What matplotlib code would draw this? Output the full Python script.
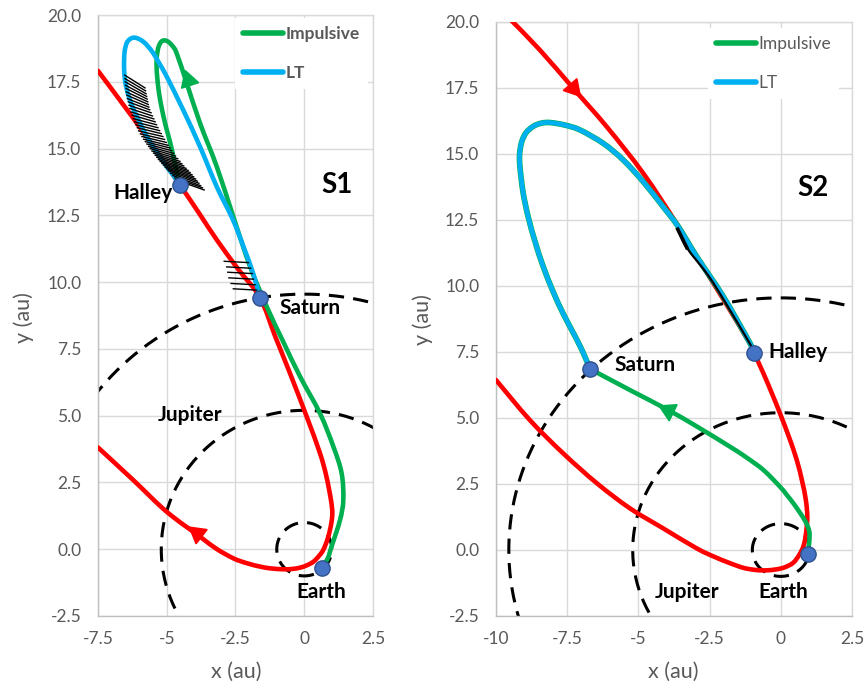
import numpy as np
import matplotlib
matplotlib.use('Agg')
import matplotlib.pyplot as plt
from matplotlib.lines import Line2D
from matplotlib.path import Path
from matplotlib.patches import PathPatch

plt.rcParams['font.family'] = ['Lato', 'DejaVu Sans']

# planet orbit radii (au)
orbit_r = [1.0, 5.2, 9.55]

# ---- S1 (left) ----
s1_halley_x = [-7.5, -6.22, -5.30, -4.52, -3.85, -3.18, -2.40, -1.61, -1.05, -0.52, 0.09, 0.57, 0.80,
               0.97, 1.02, 0.98, 0.86, 0.69, 0.52, 0.33, 0.10, -0.15, -0.45, -0.76, -1.20, -1.61,
               -2.10, -2.58, -3.20, -3.79, -5.0, -6.22, -7.5]
s1_halley_y = [17.91, 16.14, 14.80, 13.64, 12.62, 11.58, 10.48, 9.42, 7.95, 6.59, 4.96, 3.60, 2.75,
               1.85, 1.36, 0.95, 0.42, -0.03, -0.27, -0.47, -0.60, -0.69, -0.74, -0.75, -0.72, -0.65,
               -0.52, -0.34, 0.02, 0.47, 1.40, 2.59, 3.81]
s1_imp_x = [0.63, 0.85, 0.99, 1.30, 1.42, 1.36, 1.06, 0.57, -0.15, -0.78, -1.35, -1.97, -2.58,
            -3.18, -3.79, -4.27, -4.64, -4.80, -4.95, -5.08, -5.20, -5.30, -5.36, -5.37, -5.34, -5.28,
            -5.18, -5.05, -4.92, -4.80, -4.70, -4.58, -4.52]
s1_imp_y = [-0.69, -0.35, 0.09, 1.09, 1.84, 2.84, 3.84, 5.09, 6.46, 7.80, 9.05, 10.58, 12.45,
            14.32, 15.95, 17.44, 18.57, 18.85, 19.00, 19.05, 19.00, 18.80, 18.45, 18.06, 17.60, 17.07,
            16.50, 15.90, 15.40, 14.90, 14.40, 13.90, 13.64]
s1_lt_x = [-1.61, -1.85, -2.20, -2.60, -3.18, -3.79, -4.40, -5.0, -5.25, -5.49, -5.68, -5.85, -6.05,
           -6.22, -6.36, -6.46, -6.53, -6.55, -6.55, -6.52, -6.45, -6.34, -6.17, -5.97, -5.75, -5.49,
           -5.25, -5.0, -4.80, -4.64, -4.52]
s1_lt_y = [9.42, 10.30, 11.30, 12.35, 13.57, 15.07, 16.44, 17.69, 18.15, 18.57, 18.82, 19.00, 19.12,
           19.15, 19.08, 18.94, 18.65, 18.32, 17.95, 17.57, 17.20, 16.82, 16.38, 15.95, 15.50, 15.07,
           14.70, 14.32, 14.05, 13.82, 13.64]
# thrust segments near Halley (start on LT arc, end)
s1_thr_x0 = [-6.53, -6.52, -6.51, -6.50, -6.48, -6.47, -6.45, -6.43, -6.40, -6.37, -6.34, -6.30, -6.26,
             -6.22, -6.17, -6.12, -6.07, -6.02, -5.96, -5.90, -5.84, -5.78, -5.72, -5.66, -5.60, -5.54,
             -5.48, -5.42, -5.36, -5.30, -5.24, -5.18, -5.12, -5.06, -5.00, -4.94, -4.86, -4.78, -4.70,
             -4.62]
s1_thr_y0 = [17.75, 17.62, 17.50, 17.37, 17.25, 17.12, 17.00, 16.87, 16.75, 16.62, 16.50, 16.37, 16.25,
             16.12, 16.00, 15.89, 15.78, 15.66, 15.55, 15.45, 15.35, 15.26, 15.17, 15.08, 15.00, 14.91,
             14.83, 14.75, 14.67, 14.59, 14.52, 14.45, 14.38, 14.31, 14.24, 14.17, 14.08, 13.99, 13.90,
             13.81]
s1_thr_x1 = [-5.79, -5.77, -5.75, -5.73, -5.71, -5.69, -5.67, -5.65, -5.62, -5.57, -5.52, -5.47, -5.42,
             -5.37, -5.32, -5.26, -5.20, -5.14, -5.08, -5.02, -4.95, -4.88, -4.82, -4.75, -4.68, -4.60,
             -4.52, -4.45, -4.38, -4.30, -4.22, -4.15, -4.08, -4.02, -3.95, -3.89, -3.83, -3.77, -3.70,
             -3.64]
s1_thr_y1 = [17.27, 17.16, 17.05, 16.95, 16.85, 16.75, 16.65, 16.55, 16.45, 16.34, 16.22, 16.11, 16.00,
             15.89, 15.78, 15.67, 15.56, 15.45, 15.34, 15.23, 15.12, 15.02, 14.92, 14.82, 14.72, 14.62,
             14.52, 14.43, 14.35, 14.26, 14.18, 14.10, 14.02, 13.94, 13.86, 13.78, 13.70, 13.61, 13.53,
             13.45]
# thrust segments near Saturn
s1_thr2_x0 = [-2.91, -2.82, -2.78, -2.74, -2.66, -2.58]
s1_thr2_x1 = [-2.03, -1.95, -1.89, -1.85, -1.79, -1.73]
s1_thr2_y0 = [10.78, 10.57, 10.37, 10.16, 9.95, 9.75]
s1_thr2_y1 = [10.73, 10.52, 10.32, 10.11, 9.90, 9.70]
s1_bodies = {'Earth': (0.63, -0.69), 'Saturn': (-1.61, 9.42), 'Halley': (-4.52, 13.64)}
s1_labels = {'Halley': (-5.86, 13.33), 'Saturn': (0.21, 9.03), 'Jupiter': (-4.15, 5.02), 'Earth': (0.63, -1.59)}

# ---- S2 (right) ----
s2_halley_x = [-9.5, -8.46, -7.29, -6.11, -4.83, -3.66, -2.95, -2.02, -1.02, -0.93, -0.61, -0.30, -0.03,
               0.28, 0.56, 0.75, 0.88, 0.93, 0.91, 0.86, 0.79, 0.65, 0.44, 0.15, -0.14, -0.50, -0.85,
               -1.30, -1.78, -2.35, -2.95, -4.13, -5.30, -6.46, -7.64, -8.81, -10.0]
s2_halley_y = [20.1, 18.94, 17.49, 16.03, 14.27, 12.37, 11.11, 9.50, 7.70, 7.45, 6.69, 5.90, 5.18,
               4.30, 3.41, 2.60, 1.89, 1.30, 0.88, 0.45, 0.13, -0.18, -0.48, -0.65, -0.73, -0.77, -0.76,
               -0.68, -0.50, -0.25, 0.06, 0.82, 1.58, 2.53, 3.66, 4.92, 6.44]
s2_imp_x = [0.94, 1.00, 1.00, 0.88, 0.68, 0.44, 0.20, -0.03, -0.61, -1.20, -1.78, -2.95, -3.95, -5.30, -6.70]
s2_imp_y = [-0.16, 0.30, 0.70, 1.05, 1.40, 1.77, 2.10, 2.40, 3.03, 3.50, 3.91, 4.68, 5.30, 6.06, 6.86]
s2_lt_x = [-6.70, -6.95, -7.25, -7.64, -8.00, -8.34, -8.62, -8.87, -9.05, -9.16, -9.17, -9.10, -8.95,
           -8.69, -8.40, -8.10, -7.60, -7.05, -6.23, -5.53, -4.83, -4.13, -3.60, -2.95, -2.02, -1.08, -0.93]
s2_lt_y = [6.86, 7.50, 8.15, 8.95, 9.80, 10.73, 11.65, 12.62, 13.55, 14.52, 15.00, 15.45, 15.80,
           16.05, 16.17, 16.19, 16.10, 15.91, 15.40, 14.77, 13.95, 13.00, 12.25, 11.11, 9.60, 7.83, 7.45]
s2_thr_x = [-3.62, -3.30, -2.55, -1.95, -1.05]
s2_thr_y = [12.15, 11.45, 10.40, 9.38, 7.75]
s2_bodies = {'Earth': (0.94, -0.16), 'Saturn': (-6.70, 6.86), 'Halley': (-0.93, 7.45)}
s2_labels = {'Halley': (0.61, 7.51), 'Saturn': (-4.77, 7.01), 'Jupiter': (-3.30, -1.58), 'Earth': (0.09, -1.58)}

yticks = [-2.5, 0.0, 2.5, 5.0, 7.5, 10.0, 12.5, 15.0, 17.5, 20.0]
ytick_labels = ['-2.5', '0.0', '2.5', '5.0', '7.5', '10.0', '12.5', '15.0', '17.5', '20.0']
s1_xticks = [-7.5, -5, -2.5, 0, 2.5]
s1_xtick_labels = ['-7.5', '-5', '-2.5', '0', '2.5']
s2_xticks = [-10, -7.5, -5, -2.5, 0, 2.5]
s2_xtick_labels = ['-10', '-7.5', '-5', '-2.5', '0', '2.5']

RED = '#FF0000'
GREEN = '#00B050'
BLUE = '#00B0F0'
GRAY = '#595959'
LW = 3.3

fig = plt.figure(figsize=(8.67, 6.88), dpi=100)
ax1 = fig.add_axes([98 / 867, 1 - 616 / 688, 275 / 867, 601 / 688])
ax2 = fig.add_axes([496 / 867, 1 - 616 / 688, 356 / 867, 594 / 688])


def smooth(ax, xs, ys, color, lw=LW, z=4):
    # smoothed line through the points (like a spreadsheet "smoothed line" series)
    p = np.column_stack([xs, ys])
    verts = [p[0]]
    codes = [Path.MOVETO]
    n = len(p)
    for i in range(n - 1):
        p0 = p[i - 1] if i > 0 else p[i]
        p3 = p[i + 2] if i + 2 < n else p[i + 1]
        verts += [p[i] + (p[i + 1] - p0) / 6, p[i + 1] - (p3 - p[i]) / 6, p[i + 1]]
        codes += [Path.CURVE4] * 3
    ax.add_patch(PathPatch(Path(verts, codes), fill=False, edgecolor=color, lw=lw,
                           capstyle='round', joinstyle='round', zorder=z))


def setup(ax, xlim, xt, xtl):
    ax.set_xlim(*xlim)
    ax.set_ylim(-2.5, 20)
    ax.set_xticks(xt)
    ax.set_xticklabels(xtl)
    ax.set_yticks(yticks)
    ax.set_yticklabels(ytick_labels)
    ax.tick_params(length=0, labelsize=12.5, labelcolor=GRAY)
    ax.tick_params(axis='y', pad=12)
    ax.tick_params(axis='x', pad=11)
    ax.grid(True, color='#D9D9D9', lw=1.0, zorder=0)
    ax.set_axisbelow(True)
    for s in ax.spines.values():
        s.set_color('#D9D9D9')
        s.set_linewidth(1.0)
    ax.spines['left'].set_color('#BFBFBF')
    ax.spines['bottom'].set_color('#BFBFBF')
    th = np.linspace(0, 2 * np.pi, 400)
    for r in orbit_r:
        ax.plot(r * np.cos(th), r * np.sin(th), color='black', lw=2.2, dashes=(5, 3), zorder=2)


def bodies(ax, b, labels):
    for name, (x, y) in b.items():
        ax.plot(x, y, 'o', ms=11, mfc='#4472C4', mec='#2F528F', mew=1.0, zorder=10)
    for name, (x, y) in labels.items():
        ax.text(x, y, name, fontsize=15, fontweight='bold', ha='center', va='center', zorder=11)


def legend(ax, anchor, weight):
    h = [Line2D([], [], color=GREEN, lw=4, solid_capstyle='round'),
         Line2D([], [], color=BLUE, lw=4, solid_capstyle='round')]
    lg = ax.legend(h, ['Impulsive', 'LT'], loc='upper left', bbox_to_anchor=anchor,
                   frameon=True, fancybox=False, framealpha=1, facecolor='white', edgecolor='none',
                   handlelength=2.3, handletextpad=0.15, labelspacing=1.35, borderpad=0.45,
                   borderaxespad=0, prop={'size': 12.5, 'weight': weight}, labelcolor=GRAY)
    lg.set_zorder(20)


# left panel
setup(ax1, (-7.5, 2.5), s1_xticks, s1_xtick_labels)
smooth(ax1, s1_halley_x, s1_halley_y, RED, z=4)
smooth(ax1, s1_imp_x, s1_imp_y, GREEN, z=5)
smooth(ax1, s1_lt_x, s1_lt_y, BLUE, z=6)
for x0, y0, x1, y1 in zip(s1_thr_x0, s1_thr_y0, s1_thr_x1, s1_thr_y1):
    ax1.plot([x0, x1], [y0, y1], color='black', lw=1.0, zorder=7)
for x0, y0, x1, y1 in zip(s1_thr2_x0, s1_thr2_y0, s1_thr2_x1, s1_thr2_y1):
    ax1.plot([x0, x1], [y0, y1], color='black', lw=1.0, zorder=7)
ax1.plot(-3.9, 0.6, marker=(3, 0, 52), ms=15, color=RED, zorder=8)
ax1.plot(-4.22, 17.57, marker=(3, 0, 18), ms=15, color=GREEN, zorder=8)
bodies(ax1, s1_bodies, s1_labels)
ax1.text(1.19, 13.64, 'S1', fontsize=20, fontweight='bold', ha='center', va='center')
legend(ax1, (0.50, 0.995), 'bold')

# right panel
setup(ax2, (-10, 2.5), s2_xticks, s2_xtick_labels)
smooth(ax2, s2_halley_x, s2_halley_y, RED, z=4)
smooth(ax2, s2_imp_x, s2_imp_y, GREEN, z=5)
smooth(ax2, s2_lt_x, s2_lt_y, GREEN, lw=LW + 0.8, z=5)
smooth(ax2, s2_lt_x, s2_lt_y, BLUE, z=6)
smooth(ax2, s2_thr_x, s2_thr_y, 'black', lw=1.6, z=7)
ax2.plot(s2_thr_x[:2], s2_thr_y[:2], color='black', lw=2.6, zorder=7)
ax2.plot(-7.29, 17.49, marker=(3, 0, -139), ms=15, color=RED, zorder=8)
ax2.plot(-3.95, 5.30, marker=(3, 0, 64), ms=15, color=GREEN, zorder=8)
bodies(ax2, s2_bodies, s2_labels)
ax2.text(1.13, 13.71, 'S2', fontsize=20, fontweight='bold', ha='center', va='center')
legend(ax2, (0.595, 0.99), 'normal')

# axis titles
fig.text(236 / 867, 1 - 672 / 688, 'x (au)', fontsize=15.5, color=GRAY, ha='center', va='center')
fig.text(673 / 867, 1 - 672 / 688, 'x (au)', fontsize=15.5, color=GRAY, ha='center', va='center')
fig.text(24 / 867, 1 - 318 / 688, 'y (au)', fontsize=15.5, color=GRAY, ha='center', va='center', rotation=90)
fig.text(423 / 867, 1 - 320 / 688, 'y (au)', fontsize=15.5, color=GRAY, ha='center', va='center', rotation=90)

fig.savefig('out.png', dpi=100)
